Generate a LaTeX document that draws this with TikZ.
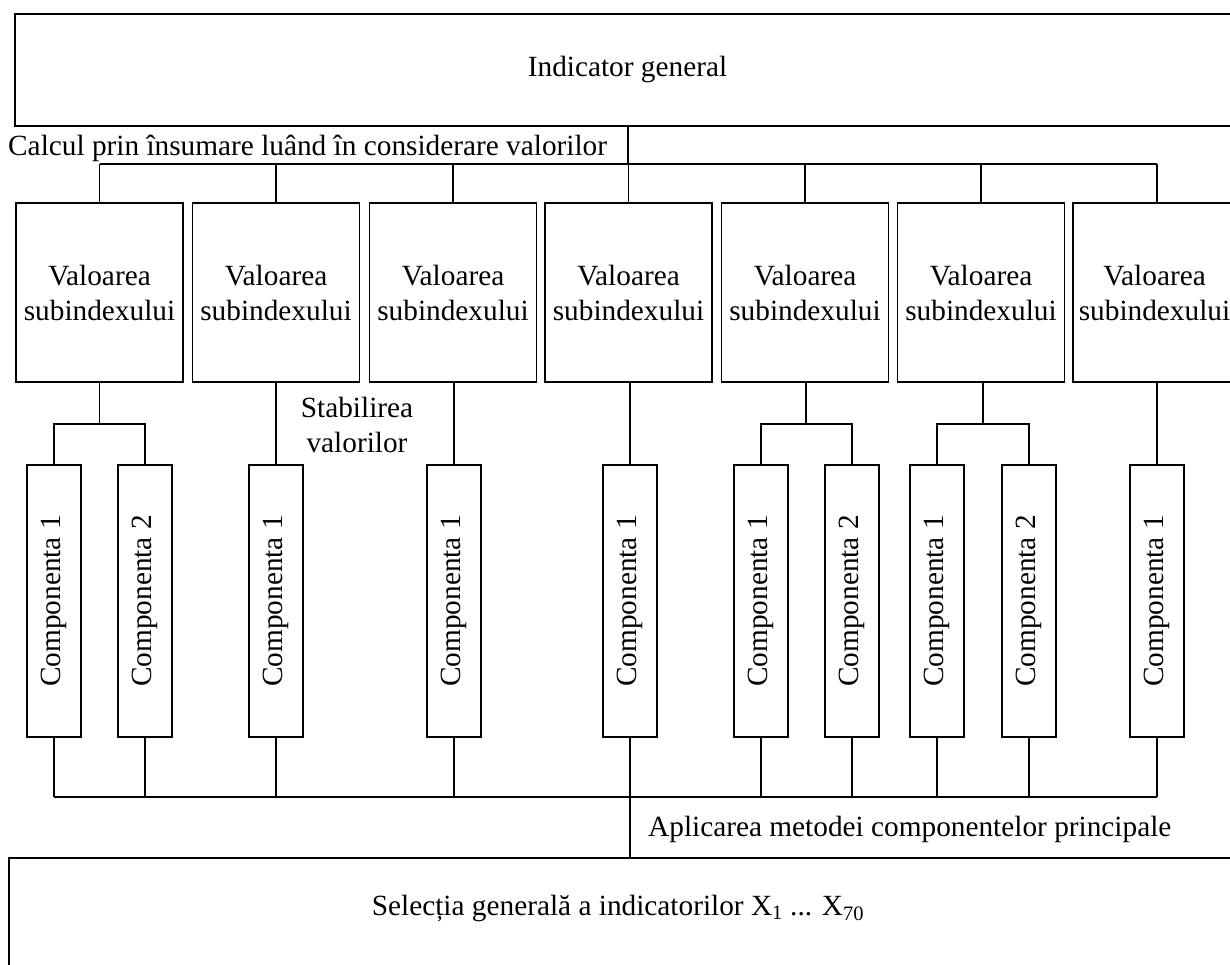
\documentclass[tikz,border=0pt]{standalone}
\usepackage{fontspec}
\usepackage{graphicx}
\setmainfont{Liberation Serif}
\tikzset{
  box/.style={draw, line width=1.6pt, inner sep=0pt, align=center},
  subbox/.style={box, minimum width=167pt, minimum height=179pt},
  compbox/.style={box, minimum width=54pt, minimum height=272pt},
  lbl/.style={inner sep=0pt, align=center},
  wire/.style={line width=1.5pt},
  buswire/.style={line width=2.6pt},
}
\newcommand{\comptext}[1]{\rotatebox{90}{Componenta #1}}
\begin{document}
\begin{tikzpicture}[x=1pt, y=-1pt, font=\fontsize{29.3pt}{35pt}\selectfont]
\useasboundingbox (0,0) rectangle (1230,965);
\clip (0,0) rectangle (1230,965);

% top box
\node[box, minimum width=1225pt, minimum height=112pt] (top) at (627.5,70) {Indicator general};

% subindex boxes
\node[subbox] (s1) at (99.5,292.5) {Valoarea\\subindexului};
\node[subbox] (s2) at (276,292.5) {Valoarea\\subindexului};
\node[subbox] (s3) at (453,292.5) {Valoarea\\subindexului};
\node[subbox] (s4) at (628.5,292.5) {Valoarea\\subindexului};
\node[subbox] (s5) at (805,292.5) {Valoarea\\subindexului};
\node[subbox] (s6) at (981,292.5) {Valoarea\\subindexului};
\node[subbox, minimum width=163pt] (s7) at (1154.5,292.5) {Valoarea\\subindexului};

% component boxes
\node[compbox] (c11) at (54,601) {\comptext{1}};
\node[compbox] (c12) at (145,601) {\comptext{2}};
\node[compbox] (c21) at (276,601) {\comptext{1}};
\node[compbox] (c31) at (454,601) {\comptext{1}};
\node[compbox] (c41) at (630,601) {\comptext{1}};
\node[compbox] (c51) at (761,601) {\comptext{1}};
\node[compbox] (c52) at (852,601) {\comptext{2}};
\node[compbox] (c61) at (937,601) {\comptext{1}};
\node[compbox] (c62) at (1029,601) {\comptext{2}};
\node[compbox] (c71) at (1157,601) {\comptext{1}};

% bottom box
\node[box, minimum width=1231pt, minimum height=152pt] (bot) at (624.5,934) {};
\node[lbl] (seltext) at (618,908) {Selecția generală a indicatorilor X\textsubscript{1} ... X\textsubscript{70}};

% free labels
\node[lbl, anchor=base west] (calc) at (8,156) {Calcul prin însumare luând în considerare valorilor};
\node[lbl] (stab) at (357,424.5) {Stabilirea\\valorilor};
\node[lbl, anchor=base west] (apl) at (648,836) {Aplicarea metodei componentelor principale};

% top connectors
\coordinate (tj) at (628,164);
\draw[wire] (tj |- top.south) -- (tj);
\draw[wire] (s1.north |- tj) -- (c71.north |- tj);
\foreach \s in {s1,s2,s3,s4,s5,s6}
  \draw[wire] (\s.north) -- (\s.north |- tj);
\draw[wire] (c71.north |- s7.north) -- (c71.north |- tj);

% subindex to components
\coordinate (f1) at (99.5,424);
\draw[wire] (s1.south) -- (f1);
\draw[wire] (c11.north) -- (c11.north |- f1) -- (c12.north |- f1) -- (c12.north);
\draw[wire] (s2.south) -- (c21.north);
\draw[wire] (s3.south -| c31.north) -- (c31.north);
\draw[wire] (s4.south -| c41.north) -- (c41.north);
\coordinate (f5) at (806,424);
\draw[wire] (s5.south -| f5) -- (f5);
\draw[wire] (c51.north) -- (c51.north |- f5) -- (c52.north |- f5) -- (c52.north);
\coordinate (f6) at (983,424);
\draw[wire] (s6.south -| f6) -- (f6);
\draw[wire] (c61.north) -- (c61.north |- f6) -- (c62.north |- f6) -- (c62.north);
\draw[wire] (s7.south -| c71.north) -- (c71.north);

% bottom bus
\coordinate (bj) at (630,797);
\foreach \c in {c11,c12,c21,c31,c41,c51,c52,c61,c62,c71}
  \draw[wire] (\c.south) -- (\c.south |- bj);
\draw[wire] (c11.south |- bj) -- (c12.south |- bj);
\draw[buswire] (c12.south |- bj) -- (c61.south |- bj);
\draw[wire] (c61.south |- bj) -- (c71.south |- bj);
\draw[buswire] (bj) -- (bj |- bot.north);
\end{tikzpicture}
\end{document}
